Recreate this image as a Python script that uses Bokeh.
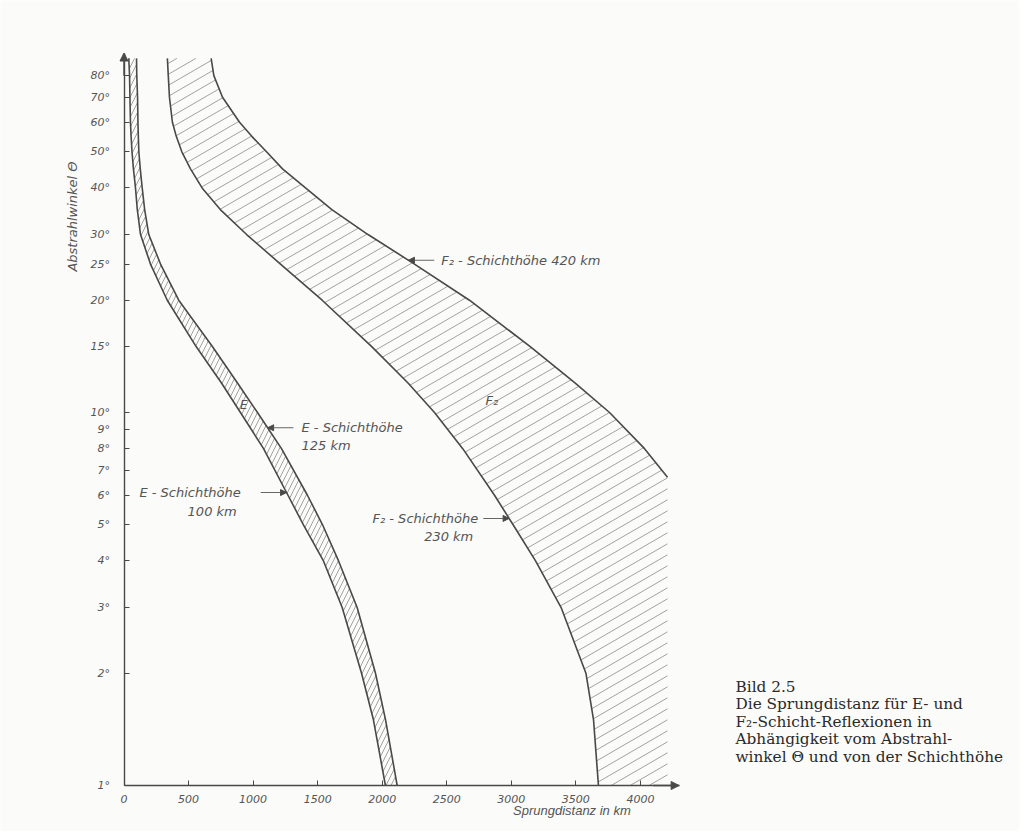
import numpy as np
from bokeh.plotting import figure
from bokeh.models import (Range1d, FixedTicker, CustomJSTickFormatter, Label, Arrow,
                          NormalHead)
from bokeh.embed import file_html
from bokeh.resources import INLINE

# ---------------- data ----------------
ANGLES = [89, 80, 70, 60, 55, 50, 45, 40, 35, 30, 25, 20, 15, 12, 10, 8, 6, 5, 4, 3, 2, 1.5, 1]
E_100 = [37, 43, 46, 50, 55, 62, 73, 89, 103, 128, 205, 335, 560, 755, 902, 1081, 1270,
         1390, 1545, 1690, 1840, 1932, 2025]
E_125 = [97, 99, 105, 108, 111, 115, 126, 141, 160, 192, 283, 424, 686, 879, 1034, 1220,
         1421, 1538, 1662, 1806, 1948, 2026, 2116]
F2_230 = [336, 343, 352, 375, 405, 448, 515, 605, 746, 950, 1212, 1535, 1921, 2200, 2405,
          2624, 2870, 3014, 3188, 3386, 3578, 3637, 3675]
F2_420_ANGLES = [89, 80, 70, 60, 55, 50, 45, 40, 35, 30, 25, 20, 15, 12, 10, 8, 6.7]
F2_420 = [675, 696, 763, 895, 990, 1104, 1228, 1406, 1610, 1890, 2250, 2676, 3149, 3493,
          3761, 4032, 4210]

X_TICKS = [0, 500, 1000, 1500, 2000, 2500, 3000, 3500, 4000]
Y_TICKS = [1, 2, 3, 4, 5, 6, 7, 8, 9, 10, 15, 20, 25, 30, 40, 50, 60, 70, 80]
X_AXIS_END = 4300
Y_AXIS_END = 92

CAPTION = ["Bild 2.5",
           "Die Sprungdistanz für E- und",
           "F\u2082-Schicht-Reflexionen in",
           "Abhängigkeit vom Abstrahl-",
           "winkel \u0398 und von der Schichthöhe"]

# ---------------- layout / style ----------------
W, H = 1019, 831
X0_PX, PX_PER_KM = 123.5, 0.1291          # pixel of 0 km, pixels per km
Y1_PX, PX_PER_DEC = 785.0, 373.0          # pixel of 1 deg, pixels per decade
BG = "#fbfbf9"
INK = "#4a4848"
HATCH = "#8c8a88"
SANS = "DejaVu Sans"
SERIF = "DejaVu Serif"
TXT = "#555555"
HATCH_SLOPE = 0.58       # ~30 degree hatch lines in the F2 band
HATCH_GAP = 11.0         # vertical pixel spacing of those lines

x_lo = -X0_PX / PX_PER_KM
x_hi = (W - X0_PX) / PX_PER_KM
y_lo = 10 ** ((Y1_PX - H) / PX_PER_DEC)
y_hi = 10 ** (Y1_PX / PX_PER_DEC)


def at(xs, angs, th):
    la = np.log10(np.asarray(angs, dtype=float))[::-1]
    return float(np.interp(np.log10(th), la, np.asarray(xs, dtype=float)[::-1]))


def to_px(km, deg):
    return X0_PX + np.asarray(km, float) * PX_PER_KM, Y1_PX - PX_PER_DEC * np.log10(deg)


def from_px(px, py):
    return (px - X0_PX) / PX_PER_KM, 10 ** ((Y1_PX - py) / PX_PER_DEC)


def hatch_lines(poly_x, poly_y):
    """Parallel shallow lines clipped to a polygon given in data units."""
    px, py = to_px(poly_x, np.asarray(poly_y, float))
    c_all = py + HATCH_SLOPE * px
    segs_x, segs_y = [], []
    n = len(px)
    c = c_all.min() + HATCH_GAP / 2
    while c < c_all.max():
        hits = []
        for i in range(n):
            x1, y1, x2, y2 = px[i], py[i], px[(i + 1) % n], py[(i + 1) % n]
            f1 = y1 + HATCH_SLOPE * x1 - c
            f2 = y2 + HATCH_SLOPE * x2 - c
            if (f1 < 0) != (f2 < 0):
                u = f1 / (f1 - f2)
                hits.append(x1 + u * (x2 - x1))
        hits.sort()
        for a, b in zip(hits[0::2], hits[1::2]):
            ka, da = from_px(a, c - HATCH_SLOPE * a)
            kb, db = from_px(b, c - HATCH_SLOPE * b)
            segs_x.append([ka, kb])
            segs_y.append([da, db])
        c += HATCH_GAP
    return segs_x, segs_y


p = figure(width=W, height=H, x_range=Range1d(x_lo, x_hi), y_range=Range1d(y_lo, y_hi),
           y_axis_type="log", output_backend="svg", toolbar_location=None,
           min_border=0, background_fill_color=BG, border_fill_color=BG,
           outline_line_color=None)
p.grid.visible = False

# axes drawn inside the frame at fixed data locations
xa, ya = p.xaxis[0], p.yaxis[0]
xa.fixed_location = 1
ya.fixed_location = 0
xa.bounds = (0, X_AXIS_END)
ya.bounds = (1, Y_AXIS_END)
for ax in (xa, ya):
    ax.axis_line_color = INK
    ax.axis_line_width = 1.4
    ax.major_tick_line_color = INK
    ax.major_tick_in = 5
    ax.major_tick_out = 0
    ax.minor_tick_line_color = None
    ax.major_label_text_font = SANS
    ax.major_label_text_font_style = "italic"
    ax.major_label_text_font_size = "11px"
    ax.major_label_text_color = TXT

xa.ticker = FixedTicker(ticks=X_TICKS)
xa.major_label_standoff = 9
ya.ticker = FixedTicker(ticks=Y_TICKS)
ya.formatter = CustomJSTickFormatter(code="return tick + '\u00b0'")
ya.major_label_standoff = 14

# axis arrows
p.add_layout(Arrow(end=NormalHead(size=8, fill_color=INK, line_color=INK),
                   x_start=0, y_start=80, x_end=0, y_end=Y_AXIS_END,
                   line_color=INK, line_width=1.4))
p.add_layout(Arrow(end=NormalHead(size=8, fill_color=INK, line_color=INK),
                   x_start=4100, y_start=1, x_end=X_AXIS_END, y_end=1,
                   line_color=INK, line_width=1.4))

# hatched E band
p.harea(x1=E_100, x2=E_125, y=ANGLES, fill_alpha=0, hatch_pattern="/",
        hatch_color=HATCH, hatch_scale=10, hatch_weight=0.8)

# hatched F2 band (shallow lines clipped to the band)
band_x = F2_420 + [F2_420[-1]] + F2_230[::-1]
band_y = F2_420_ANGLES + [ANGLES[-1]] + ANGLES[::-1]
hx, hy = hatch_lines(band_x, band_y)
p.multi_line(hx, hy, line_color=HATCH, line_width=0.8)

# curves
for xs, ys in ((E_100, ANGLES), (E_125, ANGLES), (F2_230, ANGLES), (F2_420, F2_420_ANGLES)):
    p.line(xs, ys, line_color=INK, line_width=1.6)

# ---------------- annotations ----------------
ARROW_KM = 200


def pointer(xe, th, direction):
    xs = xe + direction * ARROW_KM
    p.add_layout(Arrow(end=NormalHead(size=6, fill_color=INK, line_color=INK),
                       x_start=xs, y_start=th, x_end=xe, y_end=th,
                       line_color="#666666", line_width=1.1))
    return xs


def txt(x, y, text, align="left", xo=0, yo=0, size="13px"):
    p.add_layout(Label(x=x, y=y, text=text, x_offset=xo, y_offset=yo,
                       text_align=align, text_baseline="middle",
                       text_font=SANS, text_font_style="italic",
                       text_font_size=size, text_color=TXT))


# E 100 km
th = 6.1
s = pointer(at(E_100, ANGLES, th), th, -1)
txt(s, th, "E - Schichthöhe", "right", xo=-20)
txt(s, th, "100 km", "right", xo=-24, yo=-19)

# E 125 km
th = 9.1
s = pointer(at(E_125, ANGLES, th), th, +1)
txt(s, th, "E - Schichthöhe", "left", xo=8)
txt(s, th, "125 km", "left", xo=8, yo=-18)

# F2 420 km
th = 25.6
s = pointer(at(F2_420, F2_420_ANGLES, th), th, +1)
txt(s, th, "F\u2082 - Schichthöhe  420 km", "left", xo=7)

# F2 230 km
th = 5.2
s = pointer(at(F2_230, ANGLES, th), th, -1)
txt(s, th, "F\u2082 - Schichthöhe", "right", xo=-5)
txt(s, th, "230 km", "right", xo=-10, yo=-18)

# band labels
th = 10.5
txt((at(E_100, ANGLES, th) + at(E_125, ANGLES, th)) / 2, th, "E", "center", size="12px")
th = 10.8
x0 = at(F2_230, ANGLES, th)
x1 = at(F2_420, F2_420_ANGLES, th)
txt(x0 + 0.4 * (x1 - x0), th, "F\u2082", "center", size="13px")

# axis titles (screen units; frame == canvas)
p.add_layout(Label(x=72, y=H - 216, x_units="screen", y_units="screen",
                   text="Abstrahlwinkel \u0398", angle=np.pi / 2,
                   text_align="center", text_baseline="middle",
                   text_font=SANS, text_font_style="italic",
                   text_font_size="13px", text_color=TXT))
p.add_layout(Label(x=575, y=H - 810, x_units="screen", y_units="screen",
                   text="Sprungdistanz  in  km", text_align="center",
                   text_baseline="middle", text_font="Liberation Sans",
                   text_font_style="italic", text_font_size="13px", text_color=TXT))

# caption
for i, line in enumerate(CAPTION):
    p.add_layout(Label(x=735, y=H - 686 - 17.5 * i, x_units="screen", y_units="screen",
                       text=line, text_align="left", text_baseline="middle",
                       text_font=SERIF, text_font_size="15.3px", text_color="#2a2a2a"))

open("out.html", "w").write(file_html(p, INLINE))
